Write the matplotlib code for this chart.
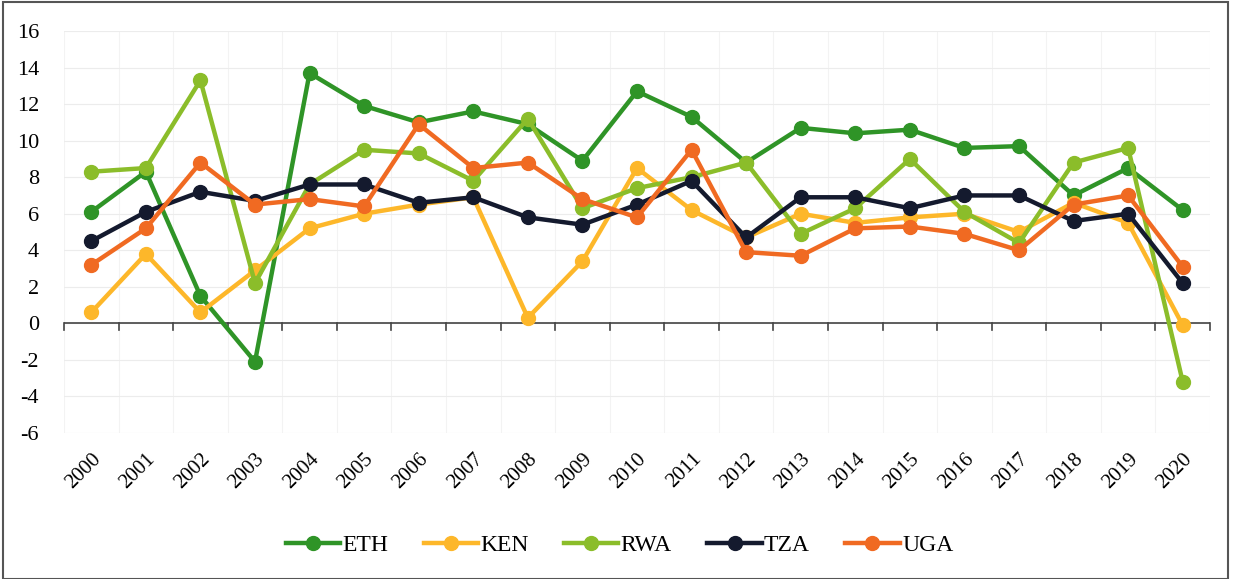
import matplotlib
matplotlib.use("Agg")
import matplotlib.pyplot as plt
from matplotlib.patches import Rectangle

# GDP growth (%) by country, 2000-2020
years = [str(y) for y in range(2000, 2021)]
eth = [6.1, 8.3, 1.5, -2.1, 13.7, 11.9, 11.0, 11.6, 10.9, 8.9, 12.7, 11.3, 8.8, 10.7, 10.4, 10.6, 9.6, 9.7, 7.0, 8.5, 6.2]
ken = [0.6, 3.8, 0.6, 2.9, 5.2, 6.0, 6.5, 6.9, 0.3, 3.4, 8.5, 6.2, 4.7, 6.0, 5.5, 5.8, 6.0, 5.0, 6.6, 5.5, -0.1]
rwa = [8.3, 8.5, 13.3, 2.2, 7.6, 9.5, 9.3, 7.8, 11.2, 6.3, 7.4, 8.0, 8.8, 4.9, 6.3, 9.0, 6.1, 4.4, 8.8, 9.6, -3.2]
tza = [4.5, 6.1, 7.2, 6.7, 7.6, 7.6, 6.6, 6.9, 5.8, 5.4, 6.5, 7.8, 4.7, 6.9, 6.9, 6.3, 7.0, 7.0, 5.6, 6.0, 2.2]
uga = [3.2, 5.2, 8.8, 6.5, 6.8, 6.4, 10.9, 8.5, 8.8, 6.8, 5.8, 9.5, 3.9, 3.7, 5.2, 5.3, 4.9, 4.0, 6.5, 7.0, 3.1]

series = [
    ("ETH", eth, "#2f9427"),
    ("KEN", ken, "#fdb72a"),
    ("RWA", rwa, "#8bbd2a"),
    ("TZA", tza, "#141a2e"),
    ("UGA", uga, "#f06a22"),
]

plt.rcParams['font.family'] = ['Liberation Serif', 'DejaVu Serif']
plt.rcParams['axes.unicode_minus'] = False

fig = plt.figure(figsize=(12.39, 5.79), dpi=100)
ax = fig.add_axes([64 / 1239, 1 - 433 / 579, (1210 - 64) / 1239, (433 - 31) / 579])

x = list(range(len(years)))
for name, vals, col in series:
    ax.plot(x, vals, color=col, linewidth=3.2, marker='o', markersize=10,
            label=name, solid_joinstyle='round')

ax.set_xlim(-0.5, len(years) - 0.5)
ax.set_ylim(-6, 16)
ax.set_yticks(range(-6, 17, 2))
ax.set_xticks(x)
ax.set_xticklabels(years, rotation=45, ha='right', rotation_mode='anchor', fontsize=15)
ax.tick_params(axis='y', length=0, labelsize=16, pad=18)
ax.tick_params(axis='x', which='both', length=0, pad=12)

# faint grid
ax.set_xticks([i - 0.5 for i in range(len(years) + 1)], minor=True)
ax.grid(axis='y', which='major', color='#ececec', linewidth=0.8)
ax.grid(axis='x', which='minor', color='#f3f3f3', linewidth=0.8)
ax.set_axisbelow(True)

for s in ax.spines.values():
    s.set_visible(False)

# axis line at zero with tick marks at category boundaries
ax.axhline(0, color='#444444', linewidth=1.2, zorder=1)
for b in range(len(years) + 1):
    ax.plot([b - 0.5, b - 0.5], [0, -0.35], color='#444444', linewidth=1.2, zorder=1, clip_on=False)

ax.legend(loc='center', bbox_to_anchor=(0.5, (579 - 545) / 579), bbox_transform=fig.transFigure,
          ncol=5, frameon=False, fontsize=17, handlelength=2.3, columnspacing=1.5,
          handletextpad=0.1)

fig.patches.append(Rectangle((3 / 1239, 0), 1225 / 1239, 577 / 579, transform=fig.transFigure,
                             fill=False, edgecolor='#555555', linewidth=1.5))

fig.savefig("out.png", dpi=100)
